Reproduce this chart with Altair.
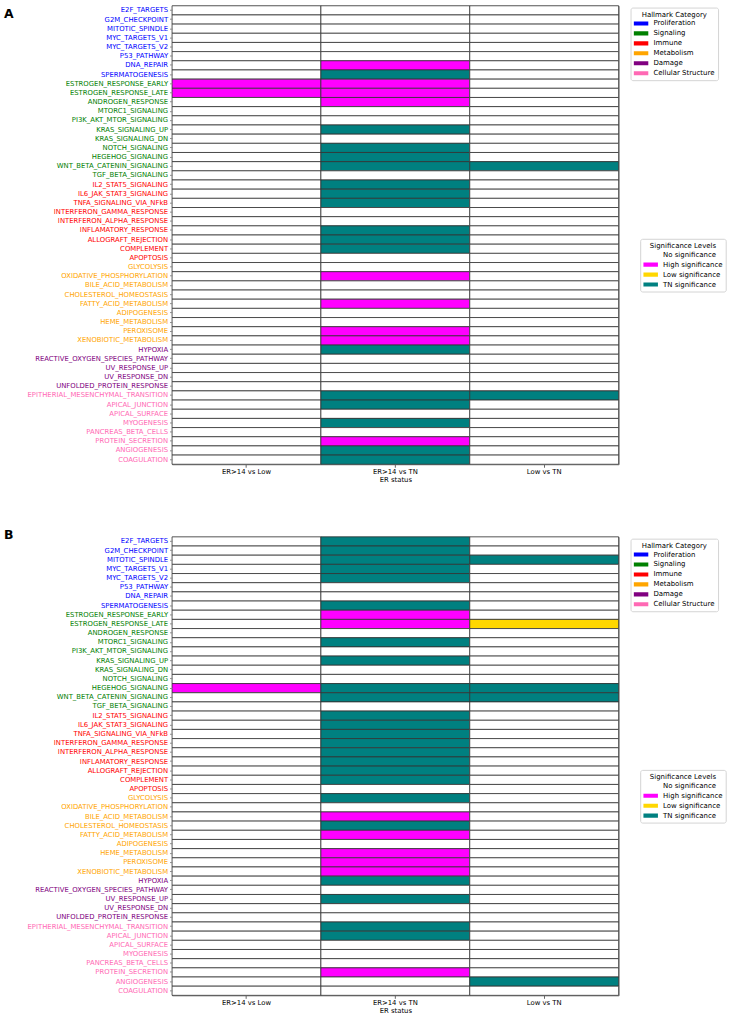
import json

import altair as alt
import pandas as pd

# Hallmark gene sets, grouped by category (top to bottom order)
proliferation = [
    "E2F_TARGETS", "G2M_CHECKPOINT", "MITOTIC_SPINDLE", "MYC_TARGETS_V1",
    "MYC_TARGETS_V2", "P53_PATHWAY", "DNA_REPAIR", "SPERMATOGENESIS",
]
signaling = [
    "ESTROGEN_RESPONSE_EARLY", "ESTROGEN_RESPONSE_LATE", "ANDROGEN_RESPONSE",
    "MTORC1_SIGNALING", "PI3K_AKT_MTOR_SIGNALING", "KRAS_SIGNALING_UP",
    "KRAS_SIGNALING_DN", "NOTCH_SIGNALING", "HEGEHOG_SIGNALING",
    "WNT_BETA_CATENIN_SIGNALING", "TGF_BETA_SIGNALING",
]
immune = [
    "IL2_STAT5_SIGNALING", "IL6_JAK_STAT3_SIGNALING", "TNFA_SIGNALING_VIA_NFkB",
    "INTERFERON_GAMMA_RESPONSE", "INTERFERON_ALPHA_RESPONSE",
    "INFLAMATORY_RESPONSE", "ALLOGRAFT_REJECTION", "COMPLEMENT", "APOPTOSIS",
]
metabolism = [
    "GLYCOLYSIS", "OXIDATIVE_PHOSPHORYLATION", "BILE_ACID_METABOLISM",
    "CHOLESTEROL_HOMEOSTASIS", "FATTY_ACID_METABOLISM", "ADIPOGENESIS",
    "HEME_METABOLISM", "PEROXISOME", "XENOBIOTIC_METABOLISM",
]
damage = [
    "HYPOXIA", "REACTIVE_OXYGEN_SPECIES_PATHWAY", "UV_RESPONSE_UP",
    "UV_RESPONSE_DN", "UNFOLDED_PROTEIN_RESPONSE",
]
structure = [
    "EPITHERIAL_MESENCHYMAL_TRANSITION", "APICAL_JUNCTION", "APICAL_SURFACE",
    "MYOGENESIS", "PANCREAS_BETA_CELLS", "PROTEIN_SECRETION", "ANGIOGENESIS",
    "COAGULATION",
]

categories = ["Proliferation", "Signaling", "Immune", "Metabolism", "Damage", "Cellular Structure"]
category_colors = ["#0000ff", "#008000", "#ff0000", "#ffa500", "#800080", "#ff69b4"]
category_members = [proliferation, signaling, immune, metabolism, damage, structure]

comparisons = ["ER>14 vs Low", "ER>14 vs TN", "Low vs TN"]

levels = ["No significance", "High significance", "Low significance", "TN significance"]
level_colors = ["#ffffff", "#ff00ff", "#ffd700", "#008080"]
level_codes = {"N": levels[0], "H": levels[1], "L": levels[2], "T": levels[3]}

# Significance per hallmark (rows in order above), one list per comparison
a_er14_low = (
    "N N N N N N N N H H "
    "N N N N N N N N N N "
    "N N N N N N N N N N "
    "N N N N N N N N N N "
    "N N N N N N N N N N"
).split()
a_er14_tn = (
    "N N N N N N H T H H "
    "H N N T N T T T N T "
    "T T N N T T T N N H "
    "N N H N N H H T N N "
    "N N T T N T N H T T"
).split()
a_low_tn = (
    "N N N N N N N N N N "
    "N N N N N N N T N N "
    "N N N N N N N N N N "
    "N N N N N N N N N N "
    "N N T N N N N N N N"
).split()

b_er14_low = (
    "N N N N N N N N N N "
    "N N N N N N H N N N "
    "N N N N N N N N N N "
    "N N N N N N N N N N "
    "N N N N N N N N N N"
).split()
b_er14_tn = (
    "T T T T T N N T H H "
    "N T N T N N T T N T "
    "T T T T T T T N T N "
    "H T H N H H H T N T "
    "N N T T N N N H N N"
).split()
b_low_tn = (
    "N N T N N N N N N L "
    "N N N N N N T T N N "
    "N N N N N N N N N N "
    "N N N N N N N N N N "
    "N N N N N N N N T N"
).split()

hallmarks = [h for group in category_members for h in group]
hallmark_category = [c for c, group in zip(categories, category_members) for _ in group]

FONT = "DejaVu Sans"
PLOT_W, PLOT_H = 449, 461

label_color = {
    "condition": [
        {"test": f"indexof({json.dumps(group)}, datum.value) >= 0", "value": col}
        for group, col in zip(category_members, category_colors)
    ],
    "value": "black",
}

patch = "M-1,-0.28L1,-0.28L1,0.28L-1,0.28Z"


def legend(title, lx, ly):
    return alt.Legend(
        title=title,
        orient="none",
        legendX=lx,
        legendY=ly,
        symbolType=patch,
        symbolSize=216,
        symbolStrokeWidth=0,
        symbolOpacity=1,
        clipHeight=7,
        rowPadding=2,
        labelOffset=5,
        labelFont=FONT,
        labelFontSize=7,
        labelLimit=300,
        titleFont=FONT,
        titleFontSize=7,
        titleFontWeight="normal",
        titleAnchor="middle",
        titleAlign="center",
        titlePadding=2.5,
        padding=3,
        strokeColor="#d4d4d4",
        fillColor="white",
        cornerRadius=2,
    )


def panel(letter, cols, letter_y):
    rows = []
    for comp, col in zip(comparisons, cols):
        for h, cat, code in zip(hallmarks, hallmark_category, col):
            rows.append({"comparison": comp, "hallmark": h, "category": cat,
                         "significance": level_codes[code]})
    df = pd.DataFrame(rows)

    x = alt.X(
        "comparison:N",
        sort=comparisons,
        scale=alt.Scale(paddingInner=0, paddingOuter=0),
        axis=alt.Axis(
            title="ER status", labelAngle=0, labelFont=FONT, labelFontSize=6.9,
            labelColor="black", titleFont=FONT, titleFontSize=6.9,
            titleFontWeight="normal", titleColor="black", titlePadding=2,
            tickSize=3, tickColor="#666", labelPadding=1.5, domain=False,
        ),
    )
    y = alt.Y(
        "hallmark:N",
        sort=hallmarks,
        scale=alt.Scale(paddingInner=0, paddingOuter=0),
        axis=alt.Axis(
            title=None, labelFont=FONT, labelFontSize=6.9, labelColor=label_color,
            labelLimit=400, tickSize=2.5, tickColor="#888", labelPadding=2,
            domain=False,
        ),
    )

    heat = alt.Chart(df).mark_rect(stroke="#333333", strokeWidth=0.8).encode(
        x=x,
        y=y,
        color=alt.Color(
            "significance:N",
            scale=alt.Scale(domain=levels, range=level_colors),
            legend=legend("Significance Levels", 470.7, 234.3),
        ),
    )

    cat_key = alt.Chart(df).mark_rect(opacity=0).encode(
        x=x,
        y=y,
        color=alt.Color(
            "category:N",
            scale=alt.Scale(domain=categories, range=category_colors),
            legend=legend("Hallmark Category", 461, 1.8),
        ),
    )

    tag = alt.Chart(pd.DataFrame({"t": [letter]})).mark_text(
        align="left", baseline="alphabetic", font=FONT, fontSize=12.5,
        fontWeight="bold", color="black",
    ).encode(x=alt.value(-169), y=alt.value(letter_y), text="t:N")

    return (
        alt.layer(heat, cat_key, tag)
        .resolve_scale(color="independent")
        .properties(width=PLOT_W, height=PLOT_H)
    )


chart = (
    alt.vconcat(
        panel("A", [a_er14_low, a_er14_tn, a_low_tn], 12),
        panel("B", [b_er14_low, b_er14_tn, b_low_tn], 2.3),
        spacing=45,
    )
    .resolve_scale(color="independent")
    .properties(padding={"left": 3, "top": 2, "right": 2, "bottom": 5}, background="white")
    .configure_view(stroke="#777777", strokeWidth=1)
)

chart.save("out.html", embed_options={"renderer": "svg", "actions": False})
